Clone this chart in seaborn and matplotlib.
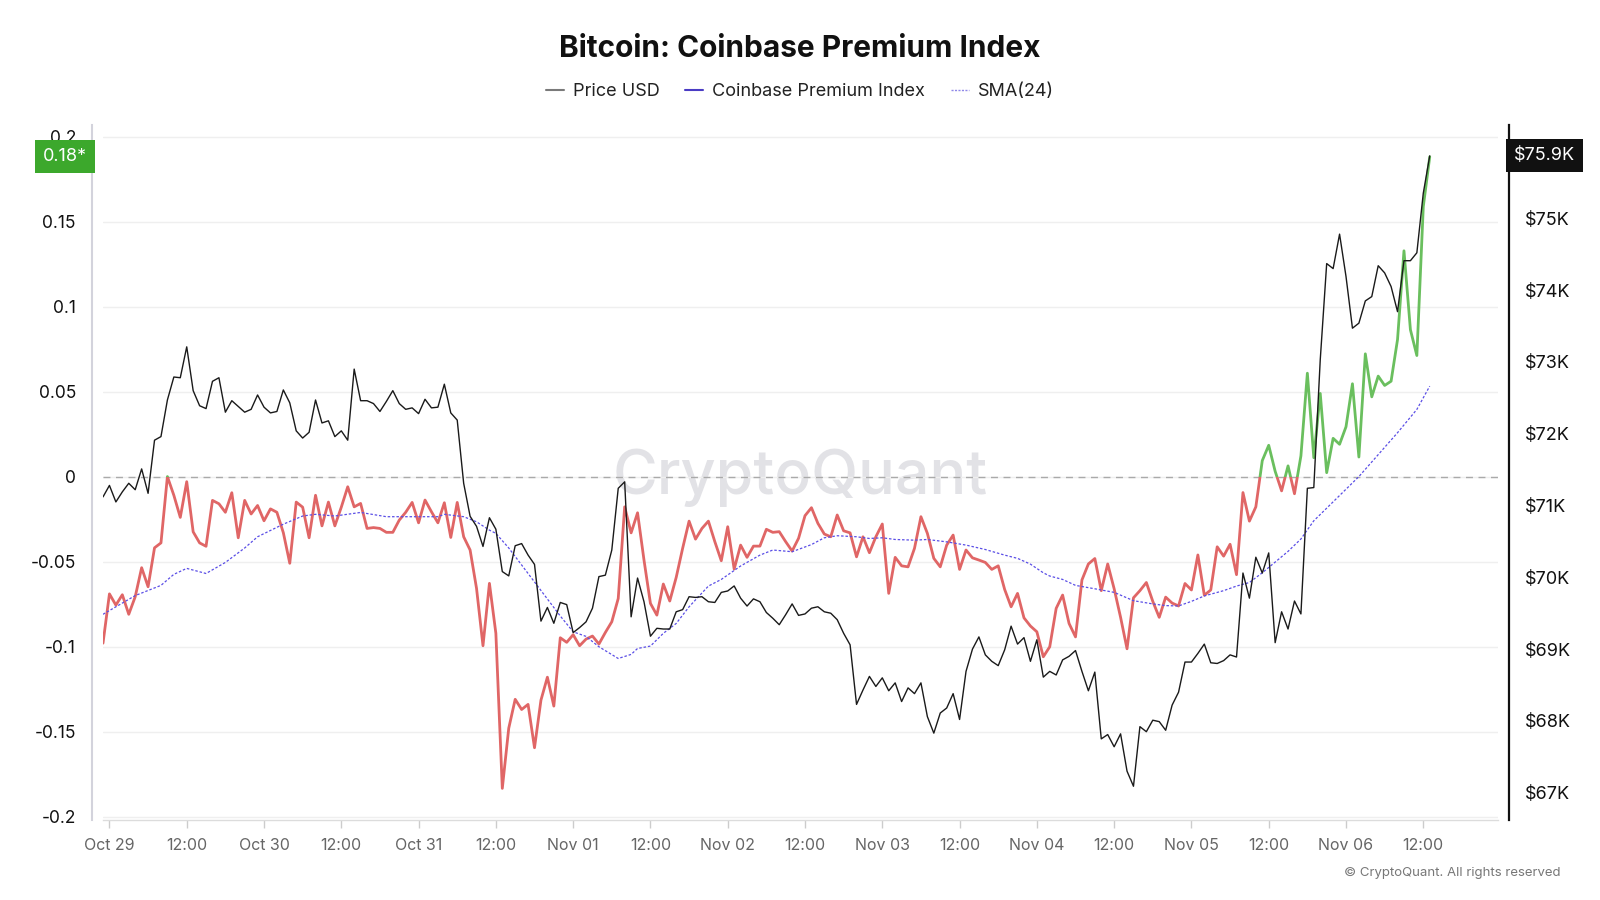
import math

import pandas as pd
import seaborn as sns
import matplotlib.pyplot as plt
import matplotlib.dates as mdates
from matplotlib.lines import Line2D
from matplotlib.patches import Rectangle
from matplotlib.ticker import FuncFormatter
from matplotlib.transforms import blended_transform_factory

# hourly series, first point Oct 28 23:00
START = '2024-10-28 23:00'

premium = [
    -0.098, -0.069, -0.0756, -0.0695, -0.081, -0.0707, -0.0536, -0.0648, -0.0419, -0.039,
    0.0, -0.011, -0.024, -0.003, -0.0325, -0.039, -0.041, -0.014, -0.016, -0.021,
    -0.0095, -0.036, -0.014, -0.022, -0.017, -0.026, -0.019, -0.021, -0.033, -0.051,
    -0.015, -0.018, -0.036, -0.011, -0.029, -0.015, -0.029, -0.018, -0.006, -0.0178,
    -0.0158, -0.0305, -0.030, -0.0305, -0.0328, -0.0328, -0.0256, -0.021, -0.0152, -0.0272,
    -0.0138, -0.0207, -0.0272, -0.0154, -0.0358, -0.0152, -0.0354, -0.0432, -0.0658, -0.0995,
    -0.0628, -0.0922, -0.1834, -0.148, -0.131, -0.137, -0.134, -0.1595, -0.1315, -0.118,
    -0.135, -0.0948, -0.0975, -0.093, -0.0995, -0.0956, -0.0938, -0.0985, -0.0917, -0.0854,
    -0.0717, -0.0178, -0.0331, -0.0213, -0.0491, -0.0746, -0.0815, -0.0632, -0.0732, -0.0593,
    -0.0422, -0.0262, -0.0368, -0.0305, -0.0262, -0.0383, -0.0495, -0.0295, -0.0544, -0.0403,
    -0.0475, -0.0409, -0.0409, -0.031, -0.0328, -0.0324, -0.0383, -0.0438, -0.0363, -0.023,
    -0.0183, -0.0275, -0.0338, -0.0354, -0.0226, -0.0319, -0.0331, -0.0472, -0.0354, -0.0448,
    -0.0354, -0.0279, -0.0687, -0.0475, -0.0525, -0.0531, -0.0422, -0.0236, -0.0334, -0.0481,
    -0.0531, -0.0403, -0.0344, -0.0546, -0.0432, -0.0478, -0.0491, -0.0505, -0.0546, -0.0525,
    -0.0664, -0.0766, -0.0687, -0.0831, -0.0879, -0.0913, -0.106, -0.1001, -0.0775, -0.0697,
    -0.0864, -0.0943, -0.0608, -0.0514, -0.0482, -0.0671, -0.0514, -0.066, -0.0828, -0.1013,
    -0.0713, -0.0671, -0.0623, -0.0734, -0.0828, -0.0709, -0.0744, -0.0761, -0.0629, -0.0667,
    -0.0461, -0.0698, -0.0667, -0.0413, -0.0468, -0.0398, -0.0577, -0.0094, -0.0262, -0.0178,
    0.0094, 0.0184, 0.0031, -0.0084, 0.0063, -0.0101, 0.0122, 0.0608, 0.0111, 0.0489,
    0.0023, 0.0225, 0.019, 0.0293, 0.0546, 0.0115, 0.0722, 0.0469, 0.0591, 0.0536,
    0.0561, 0.0806, 0.1328, 0.0864, 0.0712, 0.1588, 0.1881,
]

# BTC price in thousands of USD
price_k = [
    71.12, 71.28, 71.05, 71.19, 71.31, 71.22, 71.51, 71.17, 71.91, 71.96,
    72.47, 72.79, 72.78, 73.21, 72.60, 72.39, 72.35, 72.73, 72.78, 72.30,
    72.46, 72.38, 72.30, 72.34, 72.54, 72.37, 72.29, 72.31, 72.61, 72.43,
    72.04, 71.94, 72.02, 72.47, 72.15, 72.18, 71.96, 72.04, 71.91, 72.90,
    72.46, 72.46, 72.42, 72.31, 72.45, 72.60, 72.42, 72.34, 72.36, 72.28,
    72.48, 72.36, 72.37, 72.69, 72.29, 72.19, 71.31, 70.85, 70.71, 70.43,
    70.83, 70.67, 70.08, 70.02, 70.44, 70.47, 70.31, 70.18, 69.39, 69.58,
    69.36, 69.65, 69.62, 69.23, 69.30, 69.38, 69.57, 70.01, 70.03, 70.38,
    71.24, 71.33, 69.45, 69.99, 69.66, 69.18, 69.29, 69.28, 69.28, 69.52,
    69.55, 69.73, 69.72, 69.73, 69.66, 69.65, 69.79, 69.81, 69.88, 69.71,
    69.60, 69.70, 69.66, 69.51, 69.43, 69.34, 69.48, 69.63, 69.47, 69.49,
    69.57, 69.59, 69.52, 69.50, 69.41, 69.22, 69.06, 68.23, 68.43, 68.62,
    68.48, 68.60, 68.42, 68.53, 68.27, 68.46, 68.38, 68.53, 68.06, 67.83,
    68.11, 68.18, 68.38, 68.02, 68.69, 69.00, 69.17, 68.92, 68.83, 68.77,
    68.99, 69.32, 69.07, 69.16, 68.83, 69.13, 68.61, 68.69, 68.64, 68.85,
    68.90, 68.98, 68.69, 68.42, 68.68, 67.75, 67.81, 67.64, 67.82, 67.30,
    67.09, 67.92, 67.85, 68.01, 67.99, 67.87, 68.22, 68.40, 68.82, 68.82,
    68.94, 69.07, 68.81, 68.80, 68.84, 68.92, 68.89, 70.06, 69.71, 70.28,
    70.06, 70.34, 69.09, 69.52, 69.28, 69.67, 69.49, 71.24, 71.25, 73.03,
    74.37, 74.30, 74.78, 74.19, 73.47, 73.54, 73.85, 73.91, 74.34, 74.24,
    74.05, 73.70, 74.41, 74.41, 74.52, 75.35, 75.87,
]

# SMA(24) at these hour offsets
sma_hours = [
    0, 5, 9, 11, 13, 16, 19, 22, 24, 28, 31, 33, 36, 40, 44, 52, 53, 56, 58, 60,
    61, 63, 65, 67, 69, 71, 73, 75, 77, 80, 82, 83, 85, 87, 89, 91, 94, 96, 99, 102,
    104, 107, 110, 112, 114, 117, 119, 121, 123, 126, 128, 131, 134, 137, 140, 142, 144, 146, 147, 149,
    151, 154, 157, 160, 163, 165, 167, 169, 171, 174, 176, 178, 180, 182, 184, 186, 188, 195, 201, 204,
    206,
]
sma_values = [
    -0.081, -0.070, -0.064, -0.0575, -0.054, -0.057, -0.0505, -0.042, -0.0354, -0.028,
    -0.0232, -0.0222, -0.0232, -0.0211, -0.0236, -0.0236, -0.0222, -0.0236, -0.0266, -0.0315,
    -0.0334, -0.042, -0.052, -0.062, -0.072, -0.082, -0.0913, -0.094, -0.1001, -0.107,
    -0.1046, -0.1011, -0.0997, -0.0922, -0.0864, -0.0766, -0.0644, -0.0605, -0.0526, -0.0462,
    -0.0432, -0.0442, -0.040, -0.036, -0.0348, -0.0354, -0.0364, -0.036, -0.037, -0.0374,
    -0.037, -0.0384, -0.0403, -0.0429, -0.0462, -0.0481, -0.0515, -0.0566, -0.0585, -0.0605,
    -0.064, -0.066, -0.0681, -0.073, -0.0749, -0.0759, -0.0761, -0.0734, -0.0702, -0.0671,
    -0.0644, -0.0623, -0.0566, -0.0503, -0.044, -0.0367, -0.026, 0.0, 0.0258, 0.0395,
    0.0532,
]

LEFT_TICKS = [-0.2, -0.15, -0.1, -0.05, 0, 0.05, 0.1, 0.15, 0.2]
RIGHT_TICKS = [67, 68, 69, 70, 71, 72, 73, 74, 75]

RED = '#e06666'
GREEN = '#6abf5e'
SMA_COLOR = '#5a4ee6'


def fmt_time(x, pos=None):
    d = mdates.num2date(x)
    return '12:00' if d.hour == 12 else d.strftime('%b %d')


def clip_to_sign(ax, line, positive):
    """Keep only the part of a line above (or below) zero."""
    trans = blended_transform_factory(ax.transAxes, ax.transData)
    rect = Rectangle((0, 0 if positive else -1), 1, 1, transform=trans,
                     facecolor='none', edgecolor='none')
    line.set_clip_path(rect)


sns.set_theme(style='white')
plt.rcParams['font.family'] = ['Inter', 'DejaVu Sans']

times = pd.date_range(START, periods=len(premium), freq='h')
df = pd.DataFrame({'time': times, 'premium': premium, 'price': price_k})
sma_df = pd.DataFrame({
    'time': pd.Timestamp(START) + pd.to_timedelta(sma_hours, unit='h'),
    'sma': sma_values,
})

fig = plt.figure(figsize=(16, 9), dpi=100)
ax = fig.add_axes([103 / 1600, 80 / 900, 1395 / 1600, 695 / 900])
ax2 = ax.twinx()

# premium: red below zero, green above
sns.lineplot(data=df, x='time', y='premium', ax=ax, color=RED, linewidth=2,
             estimator=None, legend=False)
clip_to_sign(ax, ax.lines[-1], positive=False)
sns.lineplot(data=df, x='time', y='premium', ax=ax, color=GREEN, linewidth=2,
             estimator=None, legend=False)
clip_to_sign(ax, ax.lines[-1], positive=True)

sns.lineplot(data=sma_df, x='time', y='sma', ax=ax, color=SMA_COLOR, linewidth=0.9,
             linestyle=(0, (2, 1.5)), estimator=None, legend=False)

sns.lineplot(data=df, x='time', y='price', ax=ax2, color='#1a1a1a', linewidth=1.0,
             estimator=None, legend=False)

ax.axhline(0, color='#aaaaaa', linestyle=(0, (5, 4)), linewidth=1, zorder=1)

ax.set_xlim(times[0], times[0] + pd.Timedelta(hours=216.6))
ax.set_ylim(-0.202, 0.2068)
ax2.set_ylim(66.62, 76.30)

ax.xaxis.set_major_locator(mdates.HourLocator(byhour=[0, 12]))
ax.xaxis.set_major_formatter(FuncFormatter(fmt_time))
ax.set_yticks(LEFT_TICKS)
ax.yaxis.set_major_formatter(FuncFormatter(lambda v, p: f'{v:g}'))
ax2.set_yticks(RIGHT_TICKS)
ax2.yaxis.set_major_formatter(FuncFormatter(lambda v, p: f'${v:g}K'))

ax.set_xlabel('')
ax.set_ylabel('')
ax2.set_ylabel('')

ax.grid(axis='y', color='#efefef', linewidth=1)
ax.grid(axis='x', visible=False)
ax2.grid(False)

for side in ['top', 'right']:
    ax.spines[side].set_visible(False)
ax.spines['left'].set_position(('outward', 8))
ax.spines['left'].set_color('#d3d3dc')
ax.spines['left'].set_linewidth(1.5)
ax.spines['bottom'].set_color('#dcdcdc')
ax.spines['bottom'].set_linewidth(1)
for side in ['top', 'left', 'bottom']:
    ax2.spines[side].set_visible(False)
ax2.spines['right'].set_position(('outward', 8))
ax2.spines['right'].set_color('#111111')
ax2.spines['right'].set_linewidth(1.6)

ax.tick_params(axis='x', length=6, width=1, color='#cccccc', labelcolor='#666666',
               labelsize=11.5, pad=7, bottom=True)
ax.tick_params(axis='y', length=0, labelsize=12.5, labelcolor='#111111', pad=11.5)
ax2.tick_params(axis='y', length=0, labelsize=13, labelcolor='#111111', pad=11.5)

# watermark
ax.text(0.5, 0.493, 'CryptoQuant', transform=ax.transAxes, fontsize=44,
        color='#e2e2e6', ha='center', va='center', zorder=0, fontweight='medium')

# last value tags (premium value is truncated, not rounded)
last_premium = df['premium'].iloc[-1]
last_price = df['price'].iloc[-1]
left_tag = blended_transform_factory(ax.transAxes, ax.transData)
ax.text(-0.0115, last_premium, f'{math.floor(last_premium * 100) / 100:.2f}*',
        transform=left_tag, ha='right', va='center', fontsize=13, color='white',
        zorder=5, clip_on=False,
        bbox=dict(boxstyle='square,pad=0.45', facecolor='#3ca82c', edgecolor='none'))
right_tag = blended_transform_factory(ax2.transAxes, ax2.transData)
ax2.text(1.0115, last_price, f'${last_price:.1f}K',
         transform=right_tag, ha='left', va='center', fontsize=13, color='white',
         zorder=5, clip_on=False,
         bbox=dict(boxstyle='square,pad=0.45', facecolor='#111111', edgecolor='none'))

fig.text(0.5, 1 - 49 / 900, 'Bitcoin: Coinbase Premium Index', ha='center', va='center',
         fontsize=21.5, fontweight='bold', color='#111111')

handles = [
    Line2D([], [], color='#7a7a7a', linewidth=1.5),
    Line2D([], [], color='#4a3cc4', linewidth=1.5),
    Line2D([], [], color='#8f88e8', linewidth=1, linestyle=(0, (1.5, 1))),
]
fig.legend(handles, ['Price USD', 'Coinbase Premium Index', 'SMA(24)'], loc='center',
           bbox_to_anchor=(0.5, 1 - 92 / 900), ncol=3, frameon=False, fontsize=13,
           handlelength=1.0, handletextpad=0.5, columnspacing=1.4, labelcolor='#222222')

fig.text(1560 / 1600, 1 - 873 / 900, '© CryptoQuant. All rights reserved', ha='right',
         va='center', fontsize=9.5, color='#777777')

fig.savefig('out.png', dpi=100)
